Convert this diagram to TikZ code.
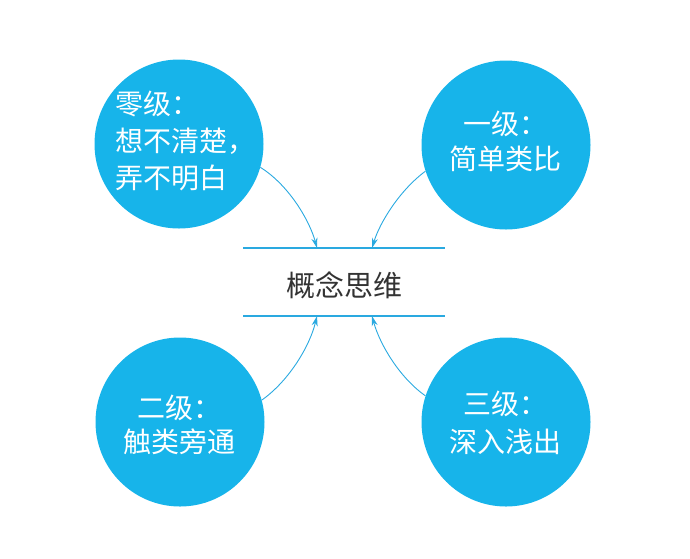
\documentclass[tikz,border=0pt]{standalone}
\usepackage{fontspec}
\newfontfamily\cjk{Noto Sans CJK SC}
\usetikzlibrary{arrows.meta}
\definecolor{circblue}{HTML}{17B4EA}
\definecolor{lineblue}{HTML}{2AA9E0}
\definecolor{textgray}{HTML}{333333}
\begin{document}
\begin{tikzpicture}[x=1pt,y=-1pt,
  level/.style={circle,fill=circblue,minimum size=169pt,inner sep=0pt},
  ctext/.style={text=white,font=\cjk\fontsize{28}{28}\selectfont,inner sep=0pt,anchor=center},
  ltext/.style={text=white,font=\cjk\fontsize{28}{28}\selectfont,inner sep=0pt,anchor=west},
  bar/.style={draw=lineblue,line width=2pt},
  link/.style={draw=lineblue,line width=0.9pt,-{Stealth[length=10pt,width=6pt,inset=3pt]}}]
\useasboundingbox (0,0) rectangle (690,558);
% circles
\node[level] (c0) at (179,144) {};
\node[level] (c1) at (506,145) {};
\node[level] (c2) at (180,422) {};
\node[level] (c3) at (506,422) {};
% circle texts
\node[ltext] (t0a) at (115,104) {零级：};
\node[ltext] (t0b) at (115,141) {想不清楚，};
\node[ltext] (t0c) at (115,178) {弄不明白};
\node[ctext] (t1a) at (505,124) {一级：};
\node[ctext] (t1b) at (505,159) {简单类比};
\node[ctext] (t2a) at (179,408) {二级：};
\node[ctext] (t2b) at (179,442) {触类旁通};
\node[ctext] (t3a) at (505,404) {三级：};
\node[ctext] (t3b) at (505,442) {深入浅出};
% center
\node[text=textgray,font=\cjk\fontsize{29}{29}\selectfont,inner sep=0pt] (center) at (344,285) {概念思维};
\coordinate (topL) at (243,248);
\coordinate (topR) at (445,248);
\coordinate (botL) at (243,316);
\coordinate (botR) at (445,316);
\draw[bar] (topL) -- (topR);
\draw[bar] (botL) -- (botR);
\coordinate (a0) at (317,248);
\coordinate (a1) at (372,248);
\coordinate (a2) at (317,316);
\coordinate (a3) at (372,316);
% arrows
\draw[link] (c0.-16) .. controls (290,186) and (310,222) .. (a0);
\draw[link] (c1.-162) .. controls (400,190) and (380,222) .. (a1);
\draw[link] (c2.15) .. controls (290,380) and (310,345) .. (a2);
\draw[link] (c3.162) .. controls (400,378) and (380,345) .. (a3);
\end{tikzpicture}
\end{document}
